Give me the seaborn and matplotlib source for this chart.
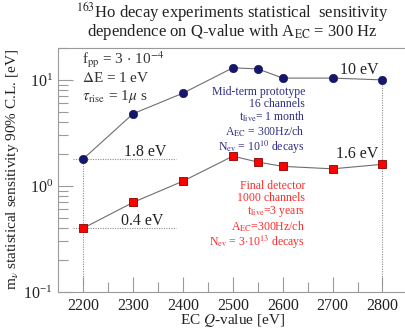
import matplotlib
matplotlib.use("Agg")
import matplotlib.pyplot as plt
import seaborn as sns
import pandas as pd
from matplotlib.ticker import LogLocator, NullFormatter, FixedLocator

sns.set_style("ticks")
plt.rcParams["font.family"] = ["Liberation Serif", "DejaVu Serif"]
plt.rcParams["mathtext.fontset"] = "stix"

# Q-values and sensitivities for the two detector configurations
q_values = [2200, 2300, 2400, 2500, 2550, 2600, 2700, 2800]
mid_term_sens = [1.8, 4.8, 7.5, 13.0, 12.7, 10.4, 10.4, 10.0]
final_sens = [0.4, 0.70, 1.11, 1.91, 1.68, 1.53, 1.45, 1.6]

x_ticks = [2200, 2300, 2400, 2500, 2600, 2700, 2800]

df = pd.concat([
    pd.DataFrame({"Q": q_values, "sens": mid_term_sens, "setup": "Mid-term prototype"}),
    pd.DataFrame({"Q": q_values, "sens": final_sens, "setup": "Final detector"}),
])

fig = plt.figure(figsize=(4.05, 3.32), dpi=100)
ax = fig.add_axes([0.144, 0.1205, 0.862, 0.735])

sns.lineplot(data=df, x="Q", y="sens", units="setup", estimator=None,
             color="#6e6e6e", lw=0.8, ax=ax, legend=False)
sns.scatterplot(x=q_values, y=mid_term_sens, marker="o", s=36,
                color="#16166a", edgecolor="#16166a", linewidth=0.5, ax=ax, zorder=5)
sns.scatterplot(x=q_values, y=final_sens, marker="s", s=34,
                color="#ff0000", edgecolor="#8a0000", linewidth=0.6, ax=ax, zorder=5)

ax.set_yscale("log")
ax.set_xlim(2150, 2850)
ax.set_ylim(0.1, 20)

# reference guides at the ends of the Q range
dot = dict(color="#8c8c8c", lw=0.8, ls=(0, (1, 1.2)), zorder=1)
ax.plot([q_values[0], q_values[0]], [0.118, mid_term_sens[0]], **dot)
ax.plot([q_values[-1], q_values[-1]], [0.118, mid_term_sens[-1]], **dot)
ax.plot([2180, 2385], [mid_term_sens[0], mid_term_sens[0]], **dot)
ax.plot([2180, 2385], [final_sens[0], final_sens[0]], **dot)

lab = dict(fontsize=11.5, color="#222222", va="baseline")
ax.text(2325, mid_term_sens[0] * 1.06, f"{mid_term_sens[0]:.1f} eV", ha="center", **lab)
ax.text(2318, final_sens[0] * 1.06, f"{final_sens[0]:.1f} eV", ha="center", **lab)
ax.text(2792, mid_term_sens[-1] * 1.14, f"{mid_term_sens[-1]:.0f} eV", ha="right", **lab)
ax.text(2792, final_sens[-1] * 1.14, f"{final_sens[-1]:.1f} eV", ha="right", **lab)

note = dict(fontsize=11, color="#333333", va="center")
ax.text(2197, 15.5, r"f$_{\rm pp}$ = 3 $\cdot$ 10$^{-4}$", **note)
ax.text(2197, 10.5, r"$\Delta$E = 1 eV", **note)
ax.text(2197, 6.9, r"$\tau_{\rm rise}$ = 1$\mu$ s", **note)

blue = "#2e2e86"
mid_lines = ["Mid-term prototype", "16 channels", r"t$_{\rm live}$= 1 month",
             r"A$_{\rm EC}$ = 300Hz/ch", r"N$_{\rm ev}$ = 10$^{10}$ decays"]
red = "#ff2a2a"
final_lines = ["Final detector", "1000 channels", r"t$_{\rm live}$=3 years",
               r"A$_{\rm EC}$=300Hz/ch", r"N$_{\rm ev}$ = 3$\cdot$10$^{13}$ decays"]

fig.text(305 / 405, (332 - 86) / 332, "\n".join(mid_lines), fontsize=8.5, color=blue,
         ha="right", va="top", multialignment="right", linespacing=1.0)
fig.text(305 / 405, (332 - 180) / 332, "\n".join(final_lines), fontsize=8.5, color=red,
         ha="right", va="top", multialignment="right", linespacing=1.0)

# axis decoration
ax.xaxis.set_major_locator(FixedLocator(x_ticks))
ax.xaxis.set_minor_locator(FixedLocator([2250, 2350, 2450, 2550, 2650, 2750]))
ax.yaxis.set_major_locator(LogLocator(base=10, numticks=10))
ax.yaxis.set_minor_locator(LogLocator(base=10, subs=range(2, 10), numticks=10))
ax.yaxis.set_minor_formatter(NullFormatter())
ax.tick_params(which="major", direction="in", length=11, width=0.8, color="#9a9a9a",
               labelsize=11.5, labelcolor="#222222", pad=4)
ax.tick_params(which="minor", direction="in", length=7, width=0.8, color="#9a9a9a")

for side in ["left", "bottom", "top"]:
    ax.spines[side].set_color("#9a9a9a")
    ax.spines[side].set_linewidth(0.8)
ax.spines["right"].set_visible(False)

ax.set_xlabel(r"EC $Q$-value [eV]", fontsize=11, color="#222222", labelpad=-1)
ax.set_ylabel(r"m$_\nu$ statistical sensitivity 90% C.L. [eV]", fontsize=11, color="#222222",
              labelpad=2)

fig.text(232 / 405, 320 / 332, r"$^{163}$Ho decay experiments statistical  sensitivity",
         fontsize=12, color="#222222", ha="center", va="center")
fig.text(232 / 405, 300 / 332, r"dependence on Q-value with A$_{\rm EC}$ = 300 Hz",
         fontsize=12, color="#222222", ha="center", va="center")

fig.savefig("out.png", dpi=100)
